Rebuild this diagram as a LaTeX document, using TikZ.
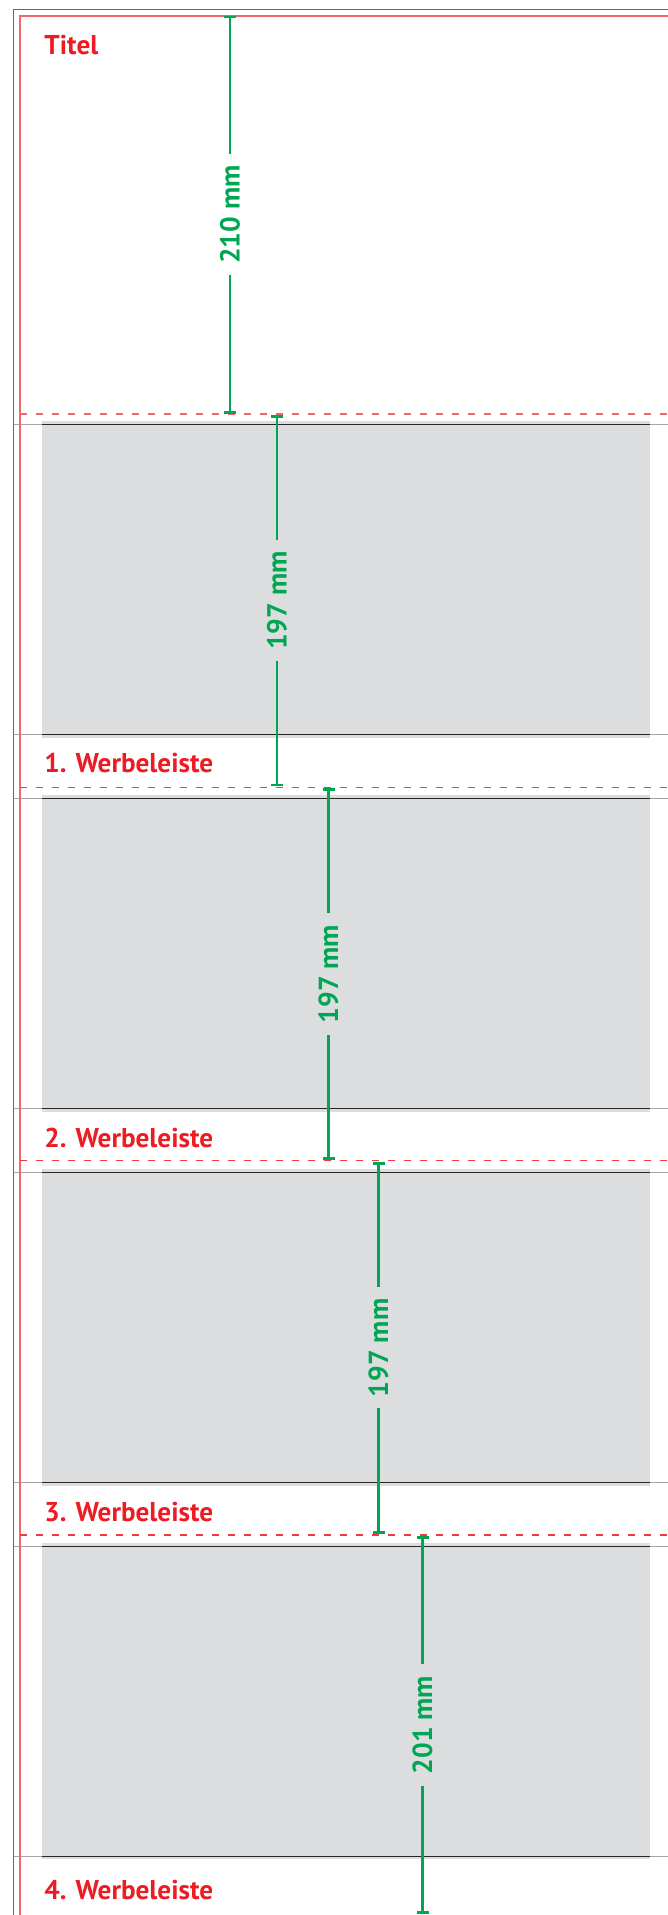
\documentclass[tikz,border=0pt]{standalone}
\usepackage{fontspec}
\newfontfamily\labelfont{PT Sans}
\usetikzlibrary{arrows.meta}

\definecolor{rahmengrau}{HTML}{666666}
\definecolor{randrot}{HTML}{F06570}
\definecolor{falzrot}{HTML}{EE3A43}
\definecolor{boxgrau}{HTML}{DCDDDF}
\definecolor{liniengrau}{HTML}{A6A6A6}
\definecolor{massgruen}{HTML}{00A651}
\definecolor{titelrot}{HTML}{ED1C24}

\tikzset{
  werbebox/.style={fill=boxgrau, draw=none},
  trennlinie/.style={draw=liniengrau, line width=0.5pt},
  boxkante/.style={draw=black!85, line width=0.45pt},
  falzlinie/.style={draw=falzrot, line width=0.55pt, dash pattern=on 3.5pt off 4.5pt},
  bemassung/.style={draw=massgruen, line width=1.4pt},
  masstext/.style={text=massgruen, font=\labelfont\bfseries\fontsize{13.8pt}{16pt}\selectfont,
    rotate=90, inner xsep=5.5pt, inner ysep=0pt},
  titeltext/.style={text=titelrot, font=\labelfont\bfseries\fontsize{13.6pt}{16pt}\selectfont,
    anchor=base west, inner sep=0pt}
}

\begin{document}
\begin{tikzpicture}[x=0.5pt, y=-0.5pt]
\useasboundingbox (0,0) rectangle (668,1915);

% grey boxes
\fill[werbebox] (42,421) rectangle (650,737.7);
\fill[werbebox] (42,795.3) rectangle (650,1111.7);
\fill[werbebox] (42,1169) rectangle (650,1485.7);
\fill[werbebox] (42,1543) rectangle (650,1859.3);

% separator lines
\draw[trennlinie] (13.3,424.3) -- (668,424.3);
\draw[boxkante] (42,424.3) -- (650,424.3);
\draw[trennlinie] (13.3,734.3) -- (668,734.3);
\draw[boxkante] (42,734.3) -- (650,734.3);

\draw[trennlinie] (13.3,798.7) -- (668,798.7);
\draw[boxkante] (42,798.7) -- (650,798.7);
\draw[trennlinie] (13.3,1108.7) -- (668,1108.7);
\draw[boxkante] (42,1108.7) -- (650,1108.7);

\draw[trennlinie] (13.3,1172.3) -- (668,1172.3);
\draw[boxkante] (42,1172.3) -- (650,1172.3);
\draw[trennlinie] (13.3,1482.7) -- (668,1482.7);
\draw[boxkante] (42,1482.7) -- (650,1482.7);

\draw[trennlinie] (13.3,1546.3) -- (668,1546.3);
\draw[boxkante] (42,1546.3) -- (650,1546.3);
\draw[trennlinie] (13.3,1856) -- (668,1856);
\draw[boxkante] (42,1856) -- (650,1856);

% outer frame
\draw[rahmengrau, line width=0.75pt] (13.3,1915) -- (13.3,9.3) -- (668,9.3);
\draw[randrot, line width=0.9pt] (20,1915) -- (20,15.7) -- (668,15.7);

% fold lines
\draw[falzlinie, draw=randrot, line width=0.9pt] (20,413.7) -- (668,413.7);
\draw[falzlinie] (20,787.3) -- (668,787.3);
\draw[falzlinie] (20,1160.7) -- (668,1160.7);
\draw[falzlinie] (20,1535) -- (668,1535);

% labels
\node[titeltext] (titel) at (44,55) {Titel};
\node[titeltext] (wb1) at (44,772.7) {1. Werbeleiste};
\node[titeltext] (wb2) at (44,1147.7) {2. Werbeleiste};
\node[titeltext] (wb3) at (44,1521.7) {3. Werbeleiste};
\node[titeltext] (wb4) at (44,1899) {4. Werbeleiste};

% dimensions
\coordinate (d1top) at (230,15.7);
\coordinate (d1bot) at (230,413.7);
\node[masstext] (dim1) at (230,214.7) {210 mm};
\draw[bemassung, {Bar[width=6pt]}-] (d1top) -- (dim1.east);
\draw[bemassung, -{Bar[width=6pt]}] (dim1.west) -- (d1bot);

\coordinate (d2top) at (277,414.7);
\coordinate (d2bot) at (277,786.3);
\node[masstext] (dim2) at (277,600.5) {197 mm};
\draw[bemassung, {Bar[width=6pt]}-] (d2top) -- (dim2.east);
\draw[bemassung, -{Bar[width=6pt]}] (dim2.west) -- (d2bot);

\coordinate (d3top) at (328.5,788.3);
\coordinate (d3bot) at (328.5,1159.7);
\node[masstext] (dim3) at (328.5,974) {197 mm};
\draw[bemassung, {Bar[width=6pt]}-] (d3top) -- (dim3.east);
\draw[bemassung, -{Bar[width=6pt]}] (dim3.west) -- (d3bot);

\coordinate (d4top) at (378.5,1161.7);
\coordinate (d4bot) at (378.5,1534);
\node[masstext] (dim4) at (378.5,1347.9) {197 mm};
\draw[bemassung, {Bar[width=6pt]}-] (d4top) -- (dim4.east);
\draw[bemassung, -{Bar[width=6pt]}] (dim4.west) -- (d4bot);

% last one
\coordinate (d5top) at (422.5,1536);
\coordinate (d5bot) at (422.5,1914);
\node[masstext] (dim5) at (422.5,1725) {201 mm};
\draw[bemassung, {Bar[width=6pt]}-] (d5top) -- (dim5.east);
\draw[bemassung, -{Bar[width=6pt]}] (dim5.west) -- (d5bot);
\end{tikzpicture}
\end{document}
